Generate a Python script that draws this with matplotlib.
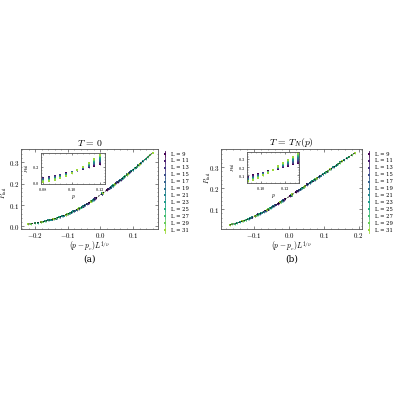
import numpy as np
import matplotlib
matplotlib.use("Agg")
import matplotlib.pyplot as plt
from matplotlib.ticker import FuncFormatter, AutoMinorLocator, FixedLocator

plt.rcParams['mathtext.fontset'] = 'cm'
plt.rcParams['font.family'] = 'serif'
plt.rcParams['font.serif'] = ['DejaVu Serif']

# system sizes
sizes = [9, 11, 13, 15, 17, 19, 21, 23, 25, 27, 29, 31]

# panel (a): T = 0
p_a = [0.080, 0.084, 0.088, 0.092, 0.096, 0.100, 0.104, 0.108, 0.112, 0.116, 0.120]
pc_a = 0.1032
nu_a = 1.525
pfail_a = [
    [0.059, 0.071, 0.085, 0.099, 0.116, 0.133, 0.152, 0.170, 0.190, 0.209, 0.229],
    [0.051, 0.063, 0.077, 0.093, 0.111, 0.131, 0.152, 0.174, 0.196, 0.218, 0.241],
    [0.044, 0.056, 0.071, 0.088, 0.107, 0.129, 0.153, 0.177, 0.201, 0.227, 0.253],
    [0.037, 0.050, 0.065, 0.083, 0.104, 0.127, 0.153, 0.180, 0.207, 0.235, 0.264],
    [0.032, 0.044, 0.060, 0.079, 0.100, 0.125, 0.154, 0.182, 0.212, 0.243, 0.275],
    [0.028, 0.040, 0.055, 0.074, 0.097, 0.124, 0.154, 0.185, 0.217, 0.250, 0.286],
    [0.024, 0.035, 0.051, 0.070, 0.094, 0.122, 0.155, 0.188, 0.222, 0.258, 0.296],
    [0.021, 0.032, 0.047, 0.067, 0.091, 0.121, 0.155, 0.190, 0.227, 0.265, 0.306],
    [0.017, 0.029, 0.043, 0.063, 0.088, 0.120, 0.155, 0.193, 0.231, 0.272, 0.316],
    [0.015, 0.026, 0.040, 0.060, 0.086, 0.118, 0.156, 0.195, 0.236, 0.280, 0.326],
    [0.013, 0.023, 0.037, 0.057, 0.084, 0.117, 0.156, 0.197, 0.240, 0.287, 0.336],
    [0.011, 0.020, 0.034, 0.054, 0.081, 0.116, 0.156, 0.200, 0.245, 0.293, 0.345],
]
err_a = 0.004
fit_x_a = [-0.22, -0.18, -0.14, -0.10, -0.06, -0.02, 0.02, 0.06, 0.10, 0.14, 0.16]
fit_y_a = [0.011, 0.021, 0.036, 0.058, 0.088, 0.126, 0.170, 0.216, 0.265, 0.318, 0.345]

# panel (b): T = T_N(p)
p_b = [0.090, 0.094, 0.098, 0.102, 0.106, 0.110, 0.114, 0.118, 0.122, 0.126, 0.130]
pc_b = 0.1089
nu_b = 1.5625
pfail_b = [
    [0.084, 0.098, 0.114, 0.130, 0.147, 0.164, 0.182, 0.200, 0.218, 0.236, 0.254],
    [0.075, 0.091, 0.108, 0.126, 0.145, 0.165, 0.185, 0.205, 0.226, 0.246, 0.267],
    [0.067, 0.084, 0.102, 0.122, 0.143, 0.165, 0.188, 0.211, 0.233, 0.256, 0.279],
    [0.060, 0.078, 0.097, 0.119, 0.142, 0.166, 0.191, 0.216, 0.240, 0.265, 0.290],
    [0.054, 0.072, 0.093, 0.116, 0.140, 0.166, 0.193, 0.220, 0.247, 0.274, 0.301],
    [0.048, 0.066, 0.088, 0.113, 0.139, 0.167, 0.196, 0.225, 0.254, 0.283, 0.312],
    [0.043, 0.062, 0.084, 0.110, 0.138, 0.167, 0.198, 0.229, 0.260, 0.291, 0.322],
    [0.039, 0.057, 0.080, 0.107, 0.136, 0.168, 0.201, 0.233, 0.266, 0.299, 0.332],
    [0.035, 0.053, 0.077, 0.105, 0.135, 0.169, 0.203, 0.237, 0.272, 0.307, 0.341],
    [0.031, 0.049, 0.073, 0.102, 0.134, 0.169, 0.205, 0.242, 0.278, 0.314, 0.350],
    [0.028, 0.046, 0.070, 0.099, 0.133, 0.169, 0.207, 0.245, 0.283, 0.321, 0.359],
    [0.025, 0.042, 0.066, 0.097, 0.132, 0.170, 0.210, 0.249, 0.289, 0.328, 0.368],
]
err_b = 0.004
fit_x_b = [-0.17, -0.14, -0.10, -0.06, -0.02, 0.02, 0.06, 0.10, 0.14, 0.19]
fit_y_b = [0.025, 0.039, 0.065, 0.099, 0.138, 0.181, 0.225, 0.269, 0.313, 0.368]

colors = plt.cm.viridis(np.linspace(0.0, 0.85, len(sizes)))
frame = '#555555'


def fmt(nd):
    def f(v, _):
        if abs(v) < 1e-9:
            v = 0.0
        return f'${v:.{nd}f}$'
    return FuncFormatter(f)


def style(ax, fs, minor=True):
    for s in ax.spines.values():
        s.set_color(frame)
        s.set_linewidth(0.6)
    ax.tick_params(which='both', direction='in', top=True, right=True,
                   colors=frame, labelcolor='black', labelsize=fs, pad=1.2)
    ax.tick_params(which='major', length=2.0, width=0.5)
    ax.tick_params(which='minor', length=1.0, width=0.4)
    if minor:
        ax.xaxis.set_minor_locator(AutoMinorLocator(5))
        ax.yaxis.set_minor_locator(AutoMinorLocator(5))


def panel(ax_pos, ins_pos, p, pc, nu, pfail, err, fit_x, fit_y, xlim, ylim,
          xticks, yticks, ins_xlim, ins_ylim, ins_xticks, ins_yticks, title,
          tag, leg_x, ylab_xy):
    ax = fig.add_axes(ax_pos)
    for L, row, c in zip(sizes, pfail, colors):
        x = (np.array(p) - pc) * L ** (1.0 / nu)
        ax.errorbar(x, row, yerr=err, fmt='s', ms=1.8, mew=0, color=c,
                    elinewidth=0.5, capsize=0)
    ax.plot(fit_x, fit_y, color='black', lw=0.6, ls=(0, (2.0, 1.5)), zorder=5)
    ax.set_xlim(*xlim)
    ax.set_ylim(*ylim)
    ax.xaxis.set_major_locator(FixedLocator(xticks))
    ax.yaxis.set_major_locator(FixedLocator(yticks))
    ax.xaxis.set_major_formatter(fmt(1))
    ax.yaxis.set_major_formatter(fmt(1))
    style(ax, 5)
    ax.set_title(title, fontsize=7, pad=2)
    ax.set_xlabel(r'$(p-p_c)L^{1/\nu}$', fontsize=5.5, labelpad=0)
    ax.set_ylabel(r'$P_{\rm fail}$', fontsize=5)
    ax.yaxis.set_label_coords(*ylab_xy)
    ax.text(0.5, -0.38, tag, transform=ax.transAxes, ha='center', va='center',
            fontsize=6.5)

    # legend column to the right of the frame
    for i, (L, c) in enumerate(zip(sizes, colors)):
        ym = 0.9375 - i * 0.0864
        ax.plot([leg_x, leg_x], [ym - 0.04, ym + 0.04], color=c, lw=0.6,
                transform=ax.transAxes, clip_on=False)
        ax.plot([leg_x], [ym], 's', ms=1.6, mew=0, color=c,
                transform=ax.transAxes, clip_on=False)
        ax.text(leg_x + 0.045, ym, f'L = {L}', transform=ax.transAxes,
                ha='left', va='center', fontsize=3.8)

    ins = fig.add_axes(ins_pos)
    for row, c in zip(pfail, colors):
        ins.errorbar(p, row, yerr=err, fmt='s', ms=1.5, mew=0, color=c,
                     elinewidth=0.4, capsize=0)
    ins.set_xlim(*ins_xlim)
    ins.set_ylim(*ins_ylim)
    ins.xaxis.set_major_locator(FixedLocator(ins_xticks))
    ins.yaxis.set_major_locator(FixedLocator(ins_yticks))
    ins.xaxis.set_major_formatter(fmt(2))
    ins.yaxis.set_major_formatter(fmt(1))
    style(ins, 3.3)
    ins.tick_params(which='major', length=1.2)
    ins.tick_params(which='minor', length=0.6)
    ins.set_xlabel(r'$p$', fontsize=4, labelpad=0.5)
    ins.set_ylabel(r'$P_{\rm fail}$', fontsize=3.5, labelpad=0.5)
    return ax


fig = plt.figure(figsize=(4, 4), dpi=100)

panel([0.0525, 0.4275, 0.3425, 0.2], [0.1025, 0.54, 0.16, 0.0775],
      p_a, pc_a, nu_a, pfail_a, err_a, fit_x_a, fit_y_a,
      (-0.243, 0.176), (-0.012, 0.362), [-0.2, -0.1, 0.0, 0.1], [0.0, 0.1, 0.2, 0.3],
      (0.0785, 0.1235), (-0.02, 0.37), [0.08, 0.10, 0.12], [0.0, 0.2],
      r'$T\,=\,0$', '(a)', 1.051, (-0.085, 0.45))

panel([0.5525, 0.4275, 0.3525, 0.2], [0.6175, 0.5425, 0.13, 0.0775],
      p_b, pc_b, nu_b, pfail_b, err_b, fit_x_b, fit_y_b,
      (-0.195, 0.21), (0.006, 0.386), [-0.1, 0.0, 0.1, 0.2], [0.1, 0.2, 0.3],
      (0.089, 0.131), (0.005, 0.385), [0.10, 0.12], [0.1, 0.2, 0.3],
      r'$T\,=\,T_N(p)$', '(b)', 1.05, (-0.06, 0.64))

fig.savefig('out.png', dpi=100)
